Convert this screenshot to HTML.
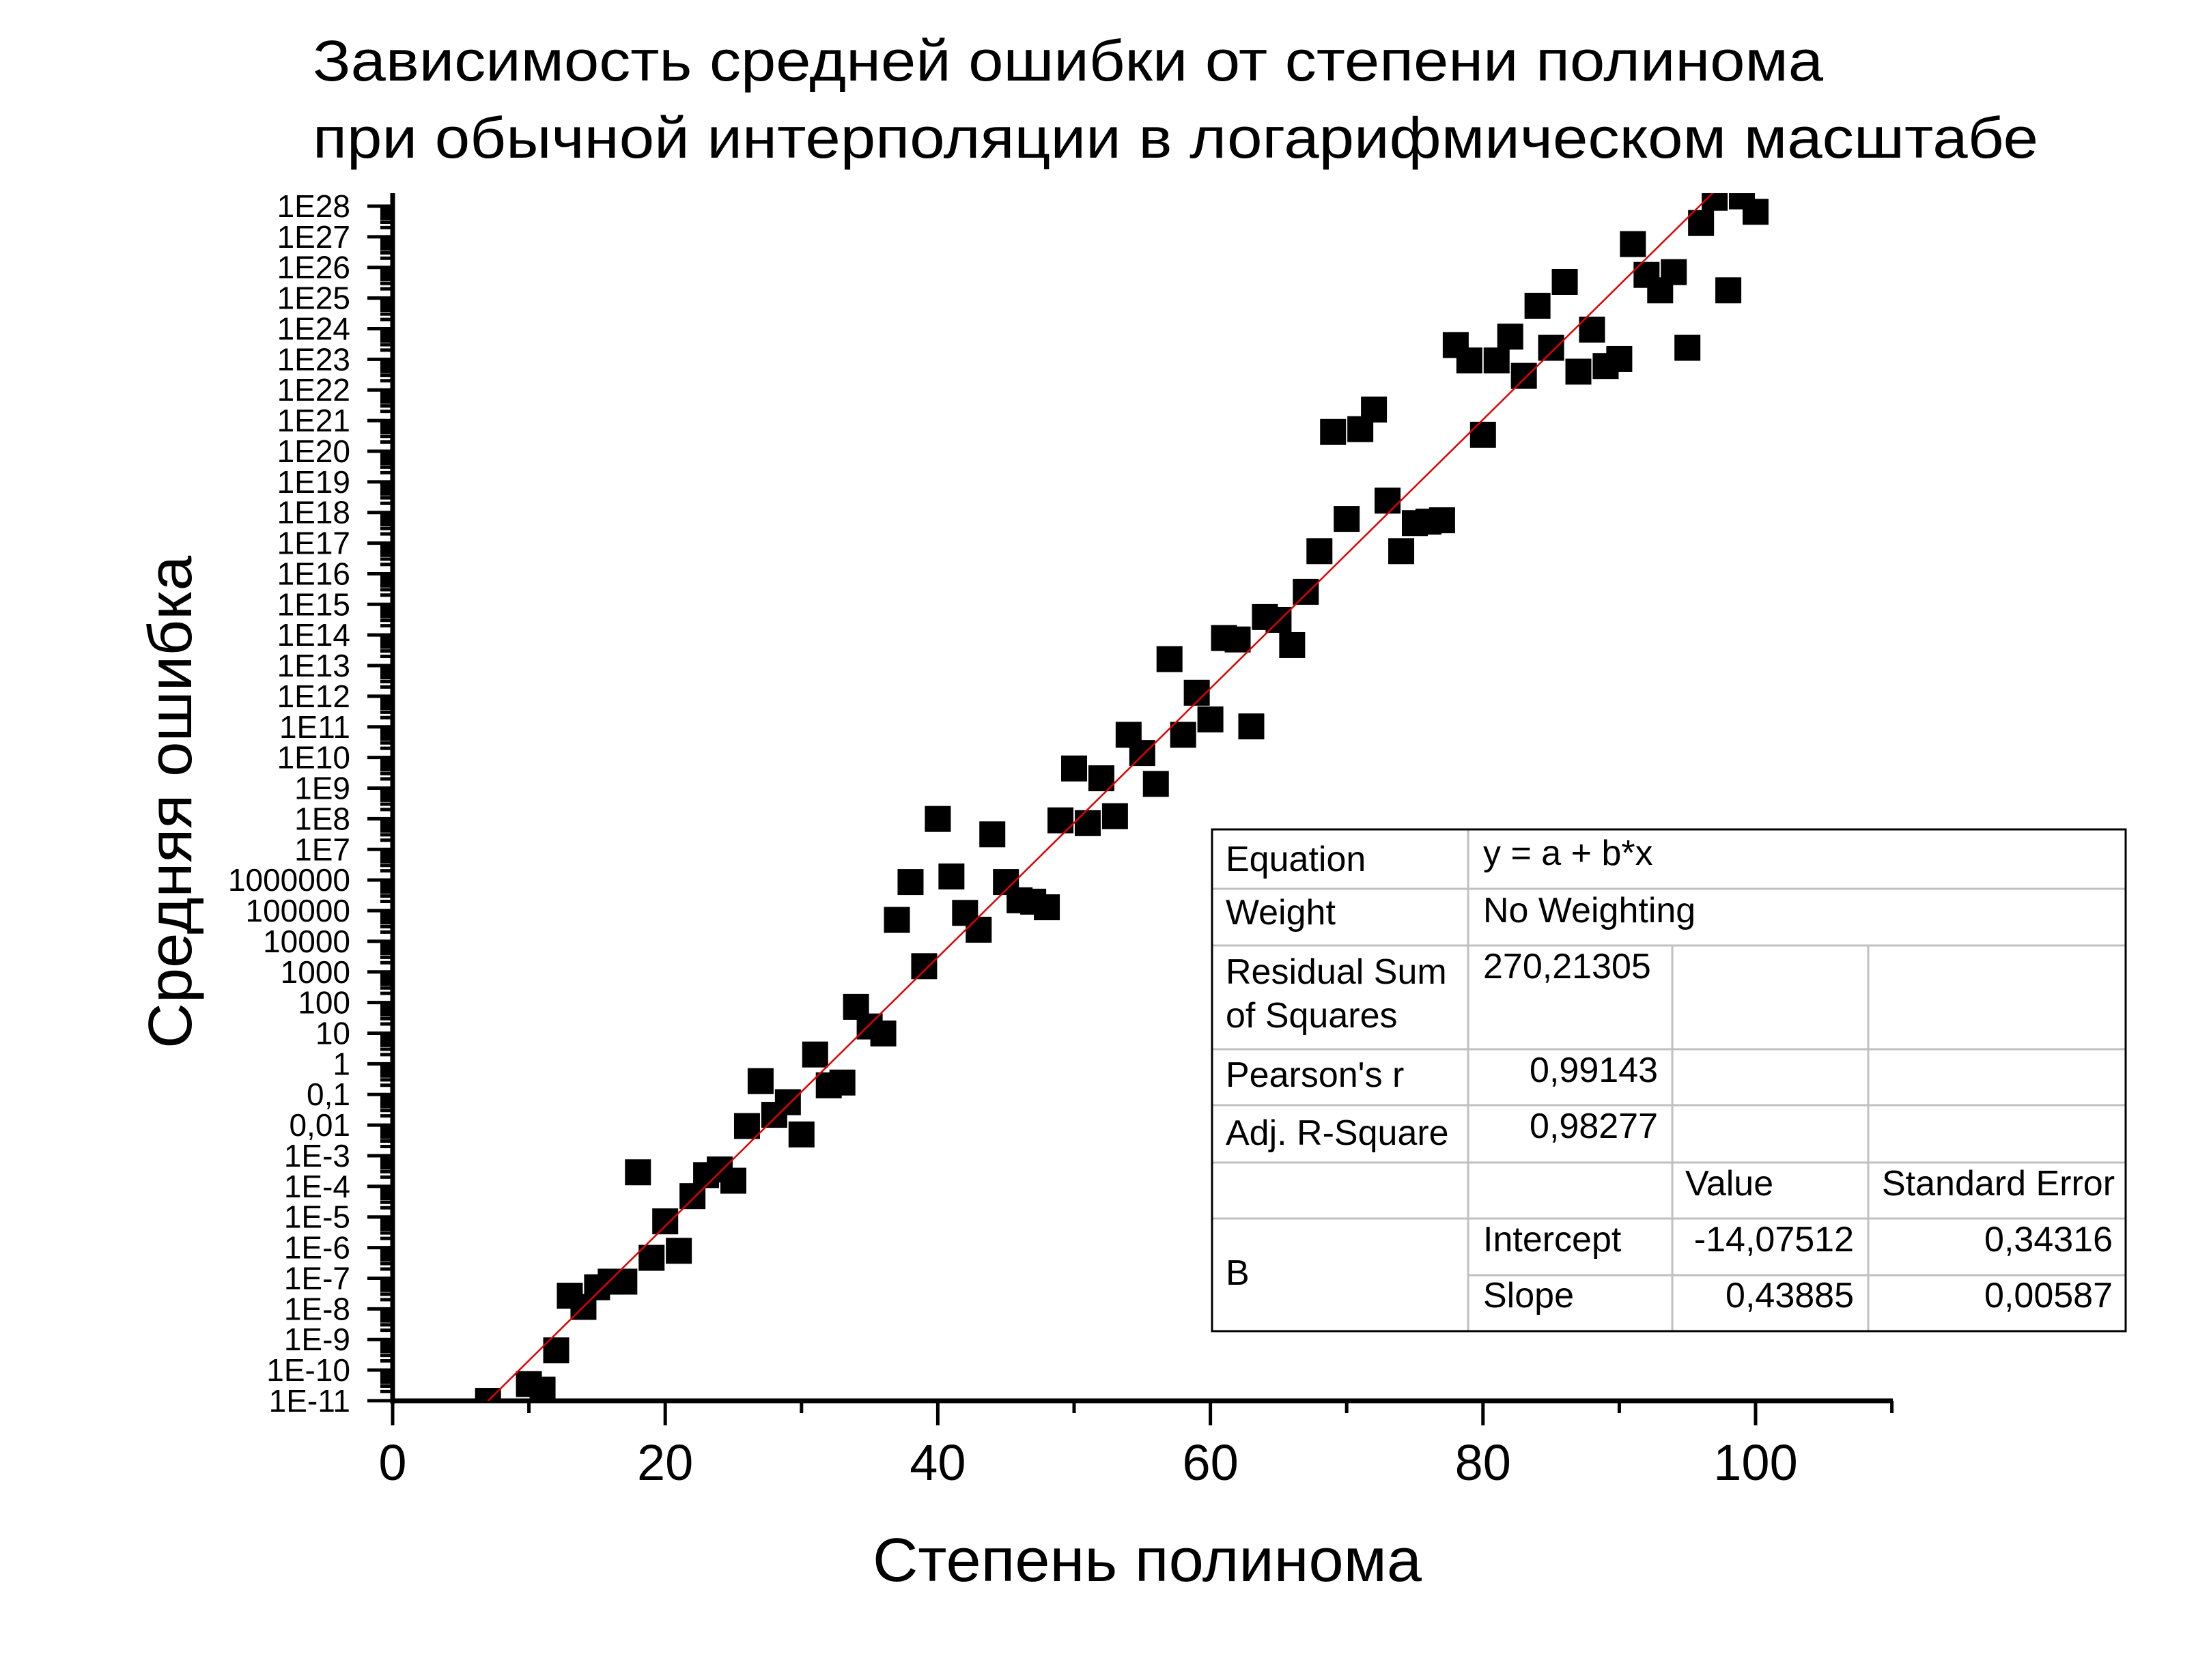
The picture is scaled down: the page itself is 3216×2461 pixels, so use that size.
<!DOCTYPE html>
<html><head><meta charset="utf-8"><style>
html,body{margin:0;padding:0;background:#fff;}
svg{display:block;font-family:"Liberation Sans",sans-serif;}
</style></head><body>
<svg id="s" width="3216" height="2461" viewBox="0 0 3216 2461" xmlns="http://www.w3.org/2000/svg">
<defs><clipPath id="c"><rect x="575" y="283" width="2200" height="1769"/></clipPath></defs>
<text x="458" y="118" font-size="84" textLength="2212" lengthAdjust="spacingAndGlyphs">Зависимость средней ошибки от степени полинома</text>
<text x="458" y="231" font-size="84" textLength="2527" lengthAdjust="spacingAndGlyphs">при обычной интерполяции в логарифмическом масштабе</text>
<g id="ax"></g>
<g id="pts" clip-path="url(#c)"></g>
<text x="1680" y="2316" font-size="90" text-anchor="middle" textLength="804" lengthAdjust="spacingAndGlyphs">Степень полинома</text>
<text transform="translate(280,1175) rotate(-90)" font-size="90" text-anchor="middle" textLength="722" lengthAdjust="spacingAndGlyphs">Средняя ошибка</text>
<g id="tbl" font-size="52"></g>
</svg>
<script>
var NS="http://www.w3.org/2000/svg";
function el(p,t,a,txt){var e=document.createElementNS(NS,t);for(var k in a)e.setAttribute(k,a[k]);if(txt!==undefined)e.textContent=txt;document.getElementById(p).appendChild(e);return e;}
var X0=575,PX=19.96,Y28=302,DEC=44.87;
function Y(d){return Y28+(28-d)*DEC;}
el("ax","line",{x1:575,y1:283,x2:575,y2:2056,stroke:"#000","stroke-width":7});
el("ax","line",{x1:572,y1:2052,x2:2772,y2:2052,stroke:"#000","stroke-width":7});
for(var d=-11;d<=28;d++){
 var y=Y(d);
 el("ax","line",{x1:538,y1:y,x2:575,y2:y,stroke:"#000","stroke-width":5});
 var lab;
 if(d>=7||d<=-3) lab="1E"+d; else if(d>=0) lab=String(Math.pow(10,d)); else lab=(d==-1?"0,1":"0,01");
 el("ax","text",{x:513,y:y+16,"font-size":46,"text-anchor":"end"},lab);
 if(d<28){for(var m=2;m<=9;m++){var ym=y-Math.log10(m)*DEC;el("ax","line",{x1:557,y1:ym,x2:575,y2:ym,stroke:"#000","stroke-width":5});}}
}
for(var n=0;n<=110;n+=10){
 var x=X0+n*PX, maj=(n%20==0);
 el("ax","line",{x1:x,y1:2052,x2:x,y2:maj?2088:2070,stroke:"#000","stroke-width":5});
 if(maj&&n<=100) el("ax","text",{x:x,y:2168,"font-size":74,"text-anchor":"middle"},String(n));
}
var P=[[7,999],[10,987],[11,991],[12,963],[13,924],[14,932],[15,918],[16,914],[17,914],[18,836],[19,897],[20,871],[21,892],[22,853],[23,838],[24,834],[25,842],[26,803],[27,771],[28,795],[29,786],[30,809],[31,752],[32,774],[33,772],[34,718],[35,732],[36,737],[37,656],[38,629],[39,689],[40,584],[41,625],[42,651],[43,663],[44,595],[45,629],[46,642],[47,643],[48,647],[49,585],[50,548],[51,587],[52,555],[53,582],[54,524],[55,537],[56,559],[57,470],[58,524],[59,494],[60,513],[61,455],[62,456],[63,518],[64,440],[65,442],[66,460],[67,422],[68,393],[69,308],[70,370],[71,306],[72,292],[73,357],[74,393],[75,373],[76,372],[77,371],[78,246],[79,257],[80,310],[81,257],[82,240],[83,268],[84,218],[85,248],[86,201],[87,265],[88,235],[89,261],[90,256],[91,174],[92,196],[93,207],[94,194],[95,248],[96,159],[97,141],[98,207],[99,140],[100,151]];
P.forEach(function(p){var x=X0+p[0]*PX,y=302+(p[1]-146)*2.054-2;el("pts","rect",{x:x-19,y:y-19,width:38,height:38,fill:"#000"});});
var x1=X0+7*PX,y1=Y(-14.07512+0.43885*7),x2=X0+100*PX,y2=Y(-14.07512+0.43885*100);
el("pts","line",{x1:x1,y1:y1,x2:x2,y2:y2,stroke:"#e00000","stroke-width":2.5});
var L=1775,R=3113,T=1215,B=1950,C1=2150,C2=2449,C3=2736;
var rows=[1302,1385,1537,1619,1703,1785];
el("tbl","rect",{x:L,y:T,width:R-L,height:B-T,fill:"#fff",stroke:"none"});
rows.forEach(function(r){el("tbl","line",{x1:L,y1:r,x2:R,y2:r,stroke:"#c0c0c0","stroke-width":3});});
el("tbl","line",{x1:C1,y1:1868,x2:R,y2:1868,stroke:"#c0c0c0","stroke-width":3});
el("tbl","line",{x1:C1,y1:T,x2:C1,y2:B,stroke:"#c0c0c0","stroke-width":3});
el("tbl","line",{x1:C2,y1:1385,x2:C2,y2:B,stroke:"#c0c0c0","stroke-width":3});
el("tbl","line",{x1:C3,y1:1385,x2:C3,y2:B,stroke:"#c0c0c0","stroke-width":3});
el("tbl","rect",{x:L,y:T,width:R-L,height:B-T,fill:"none",stroke:"#000","stroke-width":3});
function t(x,y,s,anc){el("tbl","text",{x:x,y:y,"text-anchor":anc||"start"},s);}
t(1795,1276,"Equation");t(2172,1267,"y = a + b*x");
t(1795,1354,"Weight");t(2172,1351,"No Weighting");
t(1795,1441,"Residual Sum");t(1795,1505,"of Squares");t(2172,1433,"270,21305");
t(1795,1592,"Pearson's r");t(2428,1585,"0,99143","end");
t(1795,1677,"Adj. R-Square");t(2428,1667,"0,98277","end");
t(2468,1751,"Value");t(2756,1751,"Standard Error");
t(1795,1882,"B");t(2172,1833,"Intercept");t(2715,1833,"-14,07512","end");t(3094,1833,"0,34316","end");
t(2172,1915,"Slope");t(2715,1915,"0,43885","end");t(3094,1915,"0,00587","end");
</script>
</body></html>
